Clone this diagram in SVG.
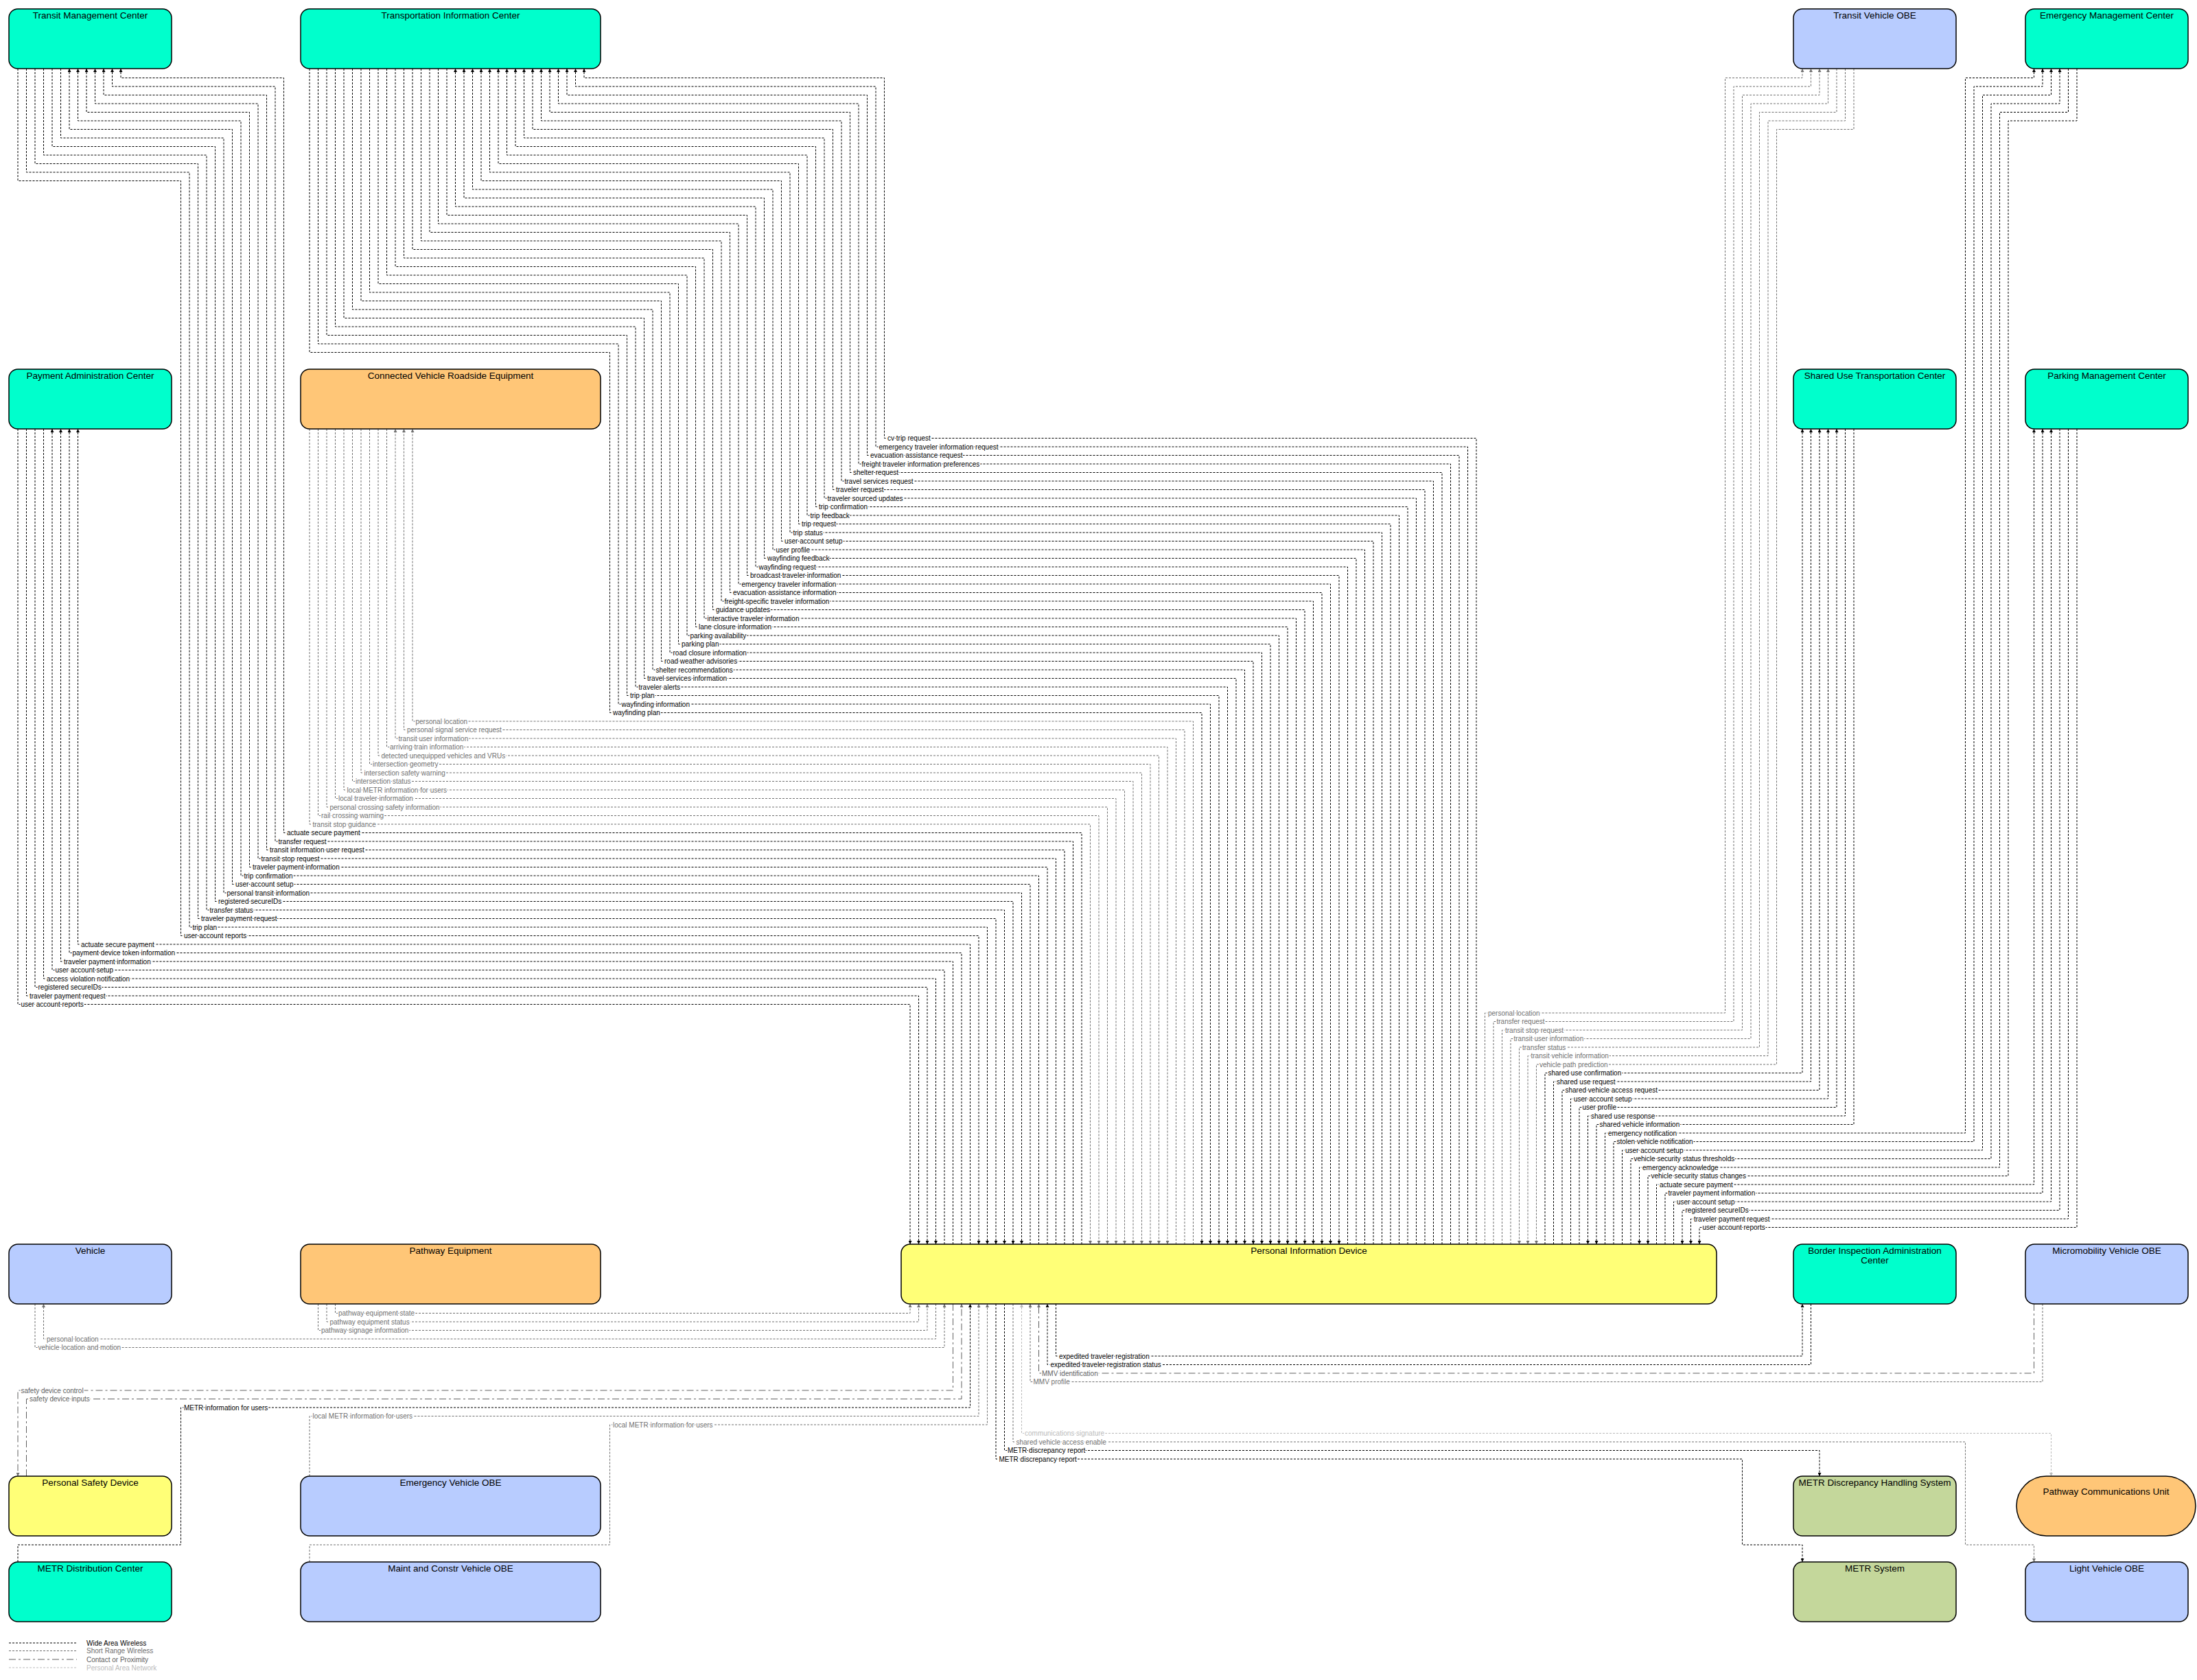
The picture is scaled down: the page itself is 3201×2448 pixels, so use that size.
<svg xmlns="http://www.w3.org/2000/svg" width="3201" height="2448" viewBox="0 0 3201 2448">
<defs>
<style>
.box{stroke:#000;stroke-width:1.5}
.g{fill:#00FFCC}.b{fill:#B8CCFF}.o{fill:#FFC677}.y{fill:#FFFF77}.m{fill:#C4D79B}
.ttl{font-family:"Liberation Sans",Arial,sans-serif;font-size:13.5px;fill:#000;text-anchor:middle}
path{fill:none;stroke-width:1}
.w{stroke:#000;stroke-dasharray:3 2;marker-end:url(#ab)}
.s{stroke:#707070;stroke-dasharray:3 2;marker-end:url(#ag)}
.c{stroke:#606060;stroke-dasharray:10 4 3 4;marker-end:url(#ag)}
.p{stroke:#BBBBBB;stroke-dasharray:3 2;marker-end:url(#ap)}
.ps{marker-start:url(#ap)}
.nm{marker-end:none}
text.l{font-family:"Liberation Sans",Arial,sans-serif;font-size:10px;paint-order:stroke;stroke:#fff;stroke-width:3px;stroke-linejoin:round}
.lw{fill:#000}.ls{fill:#707070}.lc{fill:#606060}.lp{fill:#BBBBBB}
</style>
<marker id="ab" viewBox="0 0 10 10" refX="10" refY="5" markerWidth="5" markerHeight="5" orient="auto" markerUnits="userSpaceOnUse"><path d="M0,0L10,5L0,10z" style="fill:#000;stroke:none"/></marker>
<marker id="ag" viewBox="0 0 10 10" refX="10" refY="5" markerWidth="5" markerHeight="5" orient="auto" markerUnits="userSpaceOnUse"><path d="M0,0L10,5L0,10z" style="fill:#707070;stroke:none"/></marker>
<marker id="ap" viewBox="0 0 10 10" refX="10" refY="5" markerWidth="5" markerHeight="5" orient="auto-start-reverse" markerUnits="userSpaceOnUse"><path d="M0,0L10,5L0,10z" style="fill:#BBBBBB;stroke:none"/></marker>
</defs>
<rect x="0" y="0" width="3201" height="2448" fill="#fff"/>

<g id="connectors">
<!-- Transportation Information Center -->
<path class="w" d="M451,100V513.5H888.5V1038.5H1751V1813"/>
<path class="w" d="M463.5,100V501H901V1026H1763.5V1813"/>
<path class="w" d="M476,100V488.5H913.5V1013.5H1776V1813"/>
<path class="w" d="M488.5,100V476H926V1001H1788.5V1813"/>
<path class="w" d="M501,100V463.5H938.5V988.5H1801V1813"/>
<path class="w" d="M513.5,100V451H951V976H1813.5V1813"/>
<path class="w" d="M526,100V438.5H963.5V963.5H1826V1813"/>
<path class="w" d="M538.5,100V426H976V951H1838.5V1813"/>
<path class="w" d="M551,100V413.5H988.5V938.5H1851V1813"/>
<path class="w" d="M563.5,100V401H1001V926H1863.5V1813"/>
<path class="w" d="M576,100V388.5H1013.5V913.5H1876V1813"/>
<path class="w" d="M588.5,100V376H1026V901H1888.5V1813"/>
<path class="w" d="M601,100V363.5H1038.5V888.5H1901V1813"/>
<path class="w" d="M613.5,100V351H1051V876H1913.5V1813"/>
<path class="w" d="M626,100V338.5H1063.5V863.5H1926V1813"/>
<path class="w" d="M638.5,100V326H1076V851H1938.5V1813"/>
<path class="w" d="M651,100V313.5H1088.5V838.5H1951V1813"/>
<path class="w" d="M1963.5,1813V826H1101V301H663.5V100"/>
<path class="w" d="M1976,1813V813.5H1113.5V288.5H676V100"/>
<path class="w" d="M1988.5,1813V801H1126V276H688.5V100"/>
<path class="w" d="M2001,1813V788.5H1138.5V263.5H701V100"/>
<path class="w" d="M2013.5,1813V776H1151V251H713.5V100"/>
<path class="w" d="M2026,1813V763.5H1163.5V238.5H726V100"/>
<path class="w" d="M2038.5,1813V751H1176V226H738.5V100"/>
<path class="w" d="M2051,1813V738.5H1188.5V213.5H751V100"/>
<path class="w" d="M2063.5,1813V726H1201V201H763.5V100"/>
<path class="w" d="M2076,1813V713.5H1213.5V188.5H776V100"/>
<path class="w" d="M2088.5,1813V701H1226V176H788.5V100"/>
<path class="w" d="M2101,1813V688.5H1238.5V163.5H801V100"/>
<path class="w" d="M2113.5,1813V676H1251V151H813.5V100"/>
<path class="w" d="M2126,1813V663.5H1263.5V138.5H826V100"/>
<path class="w" d="M2138.5,1813V651H1276V126H838.5V100"/>
<path class="w" d="M2151,1813V638.5H1288.5V113.5H851V100"/>
<!-- Connected Vehicle Roadside Equipment -->
<path class="s" d="M451,625V1201H1588.5V1813"/>
<path class="s" d="M463.5,625V1188.5H1601V1813"/>
<path class="s" d="M476,625V1176H1613.5V1813"/>
<path class="s" d="M488.5,625V1163.5H1626V1813"/>
<path class="s" d="M501,625V1151H1638.5V1813"/>
<path class="s" d="M513.5,625V1138.5H1651V1813"/>
<path class="s" d="M526,625V1126H1663.5V1813"/>
<path class="s" d="M538.5,625V1113.5H1676V1813"/>
<path class="s" d="M551,625V1101H1688.5V1813"/>
<path class="s" d="M563.5,625V1088.5H1701V1813"/>
<path class="s" d="M1713.5,1813V1076H576V625"/>
<path class="s" d="M1726,1813V1063.5H588.5V625"/>
<path class="s" d="M1738.5,1813V1051H601V625"/>
<!-- Transit Management Center -->
<path class="w" d="M26,100V263.5H263.5V1363.5H1426V1813"/>
<path class="w" d="M38.5,100V251H276V1351H1438.5V1813"/>
<path class="w" d="M51,100V238.5H288.5V1338.5H1451V1813"/>
<path class="w" d="M63.5,100V226H301V1326H1463.5V1813"/>
<path class="w" d="M76,100V213.5H313.5V1313.5H1476V1813"/>
<path class="w" d="M88.5,100V201H326V1301H1488.5V1813"/>
<path class="w" d="M1501,1813V1288.5H338.5V188.5H101V100"/>
<path class="w" d="M1513.5,1813V1276H351V176H113.5V100"/>
<path class="w" d="M1526,1813V1263.5H363.5V163.5H126V100"/>
<path class="w" d="M1538.5,1813V1251H376V151H138.5V100"/>
<path class="w" d="M1551,1813V1238.5H388.5V138.5H151V100"/>
<path class="w" d="M1563.5,1813V1226H401V126H163.5V100"/>
<path class="w" d="M1576,1813V1213.5H413.5V113.5H176V100"/>
<!-- Payment Administration Center -->
<path class="w" d="M26,625V1463.5H1326V1813"/>
<path class="w" d="M38.5,625V1451H1338.5V1813"/>
<path class="w" d="M51,625V1438.5H1351V1813"/>
<path class="w" d="M63.5,625V1426H1363.5V1813"/>
<path class="w" d="M1376,1813V1413.5H76V625"/>
<path class="w" d="M1388.5,1813V1401H88.5V625"/>
<path class="w" d="M1401,1813V1388.5H101V625"/>
<path class="w" d="M1413.5,1813V1376H113.5V625"/>
<!-- Transit Vehicle OBE -->
<path class="s" d="M2163.5,1813V1476H2513.5V113.5H2626V100"/>
<path class="s" d="M2176,1813V1488.5H2526V126H2638.5V100"/>
<path class="s" d="M2188.5,1813V1501H2538.5V138.5H2651V100"/>
<path class="s" d="M2201,1813V1513.5H2551V151H2663.5V100"/>
<path class="s" d="M2676,100V163.5H2563.5V1526H2213.5V1813"/>
<path class="s" d="M2688.5,100V176H2576V1538.5H2226V1813"/>
<path class="s" d="M2701,100V188.5H2588.5V1551H2238.5V1813"/>
<!-- Shared Use Transportation Center -->
<path class="w" d="M2251,1813V1563.5H2626V625"/>
<path class="w" d="M2263.5,1813V1576H2638.5V625"/>
<path class="w" d="M2276,1813V1588.5H2651V625"/>
<path class="w" d="M2288.5,1813V1601H2663.5V625"/>
<path class="w" d="M2301,1813V1613.5H2676V625"/>
<path class="w" d="M2688.5,625V1626H2313.5V1813"/>
<path class="w" d="M2701,625V1638.5H2326V1813"/>
<!-- Emergency Management Center -->
<path class="w" d="M2338.5,1813V1651H2863.5V113.5H2963.5V100"/>
<path class="w" d="M2351,1813V1663.5H2876V126H2976V100"/>
<path class="w" d="M2363.5,1813V1676H2888.5V138.5H2988.5V100"/>
<path class="w" d="M2376,1813V1688.5H2901V151H3001V100"/>
<path class="w" d="M3013.5,100V163.5H2913.5V1701H2388.5V1813"/>
<path class="w" d="M3026,100V176H2926V1713.5H2401V1813"/>
<!-- Parking Management Center -->
<path class="w" d="M2413.5,1813V1726H2963.5V625"/>
<path class="w" d="M2426,1813V1738.5H2976V625"/>
<path class="w" d="M2438.5,1813V1751H2988.5V625"/>
<path class="w" d="M3001,625V1763.5H2451V1813"/>
<path class="w" d="M3013.5,625V1776H2463.5V1813"/>
<path class="w" d="M3026,625V1788.5H2476V1813"/>
<!-- bottom flows -->
<path class="s" d="M488.5,1900V1913.5H1326V1900"/>
<path class="s" d="M476,1900V1926H1338.5V1900"/>
<path class="s" d="M463.5,1900V1938.5H1351V1900"/>
<path class="s" d="M1363.5,1900V1951H63.5V1900"/>
<path class="s" d="M51,1900V1963.5H1376V1900"/>
<path class="w" d="M1538.5,1900V1976H2626V1900"/>
<path class="w" d="M2638.5,1900V1988.5H1526V1900"/>
<path class="c" d="M2963.5,1900V2001H1513.5V1900"/>
<path class="s" d="M2976,1900V2013.5H1501V1900"/>
<path class="c" d="M1388.5,1900V2026H26V2151"/>
<path class="c" d="M38.5,2151V2038.5H1401V1900"/>
<path class="w" d="M26,2276V2251H263.5V2051H1413.5V1900"/>
<path class="s" d="M451,2151V2063.5H1426V1900"/>
<path class="s" d="M451,2276V2251H888.5V2076H1438.5V1900"/>
<path class="p ps" d="M1488.5,1900V2088.5H2988.5V2151"/>
<path class="s" d="M1476,1900V2101H2863.5V2251H2963.5V2276"/>
<path class="w" d="M1463.5,1900V2113.5H2651V2151"/>
<path class="w" d="M1451,1900V2126H2538.5V2251H2626V2276"/>

<!-- labels: TIC -->
<text class="l lw" x="893" y="1042">wayfinding plan</text>
<text class="l lw" x="905.5" y="1029.5">wayfinding information</text>
<text class="l lw" x="918" y="1017">trip plan</text>
<text class="l lw" x="930.5" y="1004.5">traveler alerts</text>
<text class="l lw" x="943" y="992">travel services information</text>
<text class="l lw" x="955.5" y="979.5">shelter recommendations</text>
<text class="l lw" x="968" y="967">road weather advisories</text>
<text class="l lw" x="980.5" y="954.5">road closure information</text>
<text class="l lw" x="993" y="942">parking plan</text>
<text class="l lw" x="1005.5" y="929.5">parking availability</text>
<text class="l lw" x="1018" y="917">lane closure information</text>
<text class="l lw" x="1030.5" y="904.5">interactive traveler information</text>
<text class="l lw" x="1043" y="892">guidance updates</text>
<text class="l lw" x="1055.5" y="879.5">freight-specific traveler information</text>
<text class="l lw" x="1068" y="867">evacuation assistance information</text>
<text class="l lw" x="1080.5" y="854.5">emergency traveler information</text>
<text class="l lw" x="1093" y="842">broadcast traveler information</text>
<text class="l lw" x="1105.5" y="829.5">wayfinding request</text>
<text class="l lw" x="1118" y="817">wayfinding feedback</text>
<text class="l lw" x="1130.5" y="804.5">user profile</text>
<text class="l lw" x="1143" y="792">user account setup</text>
<text class="l lw" x="1155.5" y="779.5">trip status</text>
<text class="l lw" x="1168" y="767">trip request</text>
<text class="l lw" x="1180.5" y="754.5">trip feedback</text>
<text class="l lw" x="1193" y="742">trip confirmation</text>
<text class="l lw" x="1205.5" y="729.5">traveler sourced updates</text>
<text class="l lw" x="1218" y="717">traveler request</text>
<text class="l lw" x="1230.5" y="704.5">travel services request</text>
<text class="l lw" x="1243" y="692">shelter request</text>
<text class="l lw" x="1255.5" y="679.5">freight traveler information preferences</text>
<text class="l lw" x="1268" y="667">evacuation assistance request</text>
<text class="l lw" x="1280.5" y="654.5">emergency traveler information request</text>
<text class="l lw" x="1293" y="642">cv trip request</text>
<!-- labels: CVRSE -->
<text class="l ls" x="455.5" y="1204.5">transit stop guidance</text>
<text class="l ls" x="468" y="1192">rail crossing warning</text>
<text class="l ls" x="480.5" y="1179.5">personal crossing safety information</text>
<text class="l ls" x="493" y="1167">local traveler information</text>
<text class="l ls" x="505.5" y="1154.5">local METR information for users</text>
<text class="l ls" x="518" y="1142">intersection status</text>
<text class="l ls" x="530.5" y="1129.5">intersection safety warning</text>
<text class="l ls" x="543" y="1117">intersection geometry</text>
<text class="l ls" x="555.5" y="1104.5">detected unequipped vehicles and VRUs</text>
<text class="l ls" x="568" y="1092">arriving train information</text>
<text class="l ls" x="580.5" y="1079.5">transit user information</text>
<text class="l ls" x="593" y="1067">personal signal service request</text>
<text class="l ls" x="605.5" y="1054.5">personal location</text>
<!-- labels: TMC -->
<text class="l lw" x="268" y="1367">user account reports</text>
<text class="l lw" x="280.5" y="1354.5">trip plan</text>
<text class="l lw" x="293" y="1342">traveler payment request</text>
<text class="l lw" x="305.5" y="1329.5">transfer status</text>
<text class="l lw" x="318" y="1317">registered secureIDs</text>
<text class="l lw" x="330.5" y="1304.5">personal transit information</text>
<text class="l lw" x="343" y="1292">user account setup</text>
<text class="l lw" x="355.5" y="1279.5">trip confirmation</text>
<text class="l lw" x="368" y="1267">traveler payment information</text>
<text class="l lw" x="380.5" y="1254.5">transit stop request</text>
<text class="l lw" x="393" y="1242">transit information user request</text>
<text class="l lw" x="405.5" y="1229.5">transfer request</text>
<text class="l lw" x="418" y="1217">actuate secure payment</text>
<!-- labels: PAC -->
<text class="l lw" x="30.5" y="1467">user account reports</text>
<text class="l lw" x="43" y="1454.5">traveler payment request</text>
<text class="l lw" x="55.5" y="1442">registered secureIDs</text>
<text class="l lw" x="68" y="1429.5">access violation notification</text>
<text class="l lw" x="80.5" y="1417">user account setup</text>
<text class="l lw" x="93" y="1404.5">traveler payment information</text>
<text class="l lw" x="105.5" y="1392">payment device token information</text>
<text class="l lw" x="118" y="1379.5">actuate secure payment</text>
<!-- labels: right side -->
<text class="l ls" x="2168" y="1479.5">personal location</text>
<text class="l ls" x="2180.5" y="1492">transfer request</text>
<text class="l ls" x="2193" y="1504.5">transit stop request</text>
<text class="l ls" x="2205.5" y="1517">transit user information</text>
<text class="l ls" x="2218" y="1529.5">transfer status</text>
<text class="l ls" x="2230.5" y="1542">transit vehicle information</text>
<text class="l ls" x="2243" y="1554.5">vehicle path prediction</text>
<text class="l lw" x="2255.5" y="1567">shared use confirmation</text>
<text class="l lw" x="2268" y="1579.5">shared use request</text>
<text class="l lw" x="2280.5" y="1592">shared vehicle access request</text>
<text class="l lw" x="2293" y="1604.5">user account setup</text>
<text class="l lw" x="2305.5" y="1617">user profile</text>
<text class="l lw" x="2318" y="1629.5">shared use response</text>
<text class="l lw" x="2330.5" y="1642">shared vehicle information</text>
<text class="l lw" x="2343" y="1654.5">emergency notification</text>
<text class="l lw" x="2355.5" y="1667">stolen vehicle notification</text>
<text class="l lw" x="2368" y="1679.5">user account setup</text>
<text class="l lw" x="2380.5" y="1692">vehicle security status thresholds</text>
<text class="l lw" x="2393" y="1704.5">emergency acknowledge</text>
<text class="l lw" x="2405.5" y="1717">vehicle security status changes</text>
<text class="l lw" x="2418" y="1729.5">actuate secure payment</text>
<text class="l lw" x="2430.5" y="1742">traveler payment information</text>
<text class="l lw" x="2443" y="1754.5">user account setup</text>
<text class="l lw" x="2455.5" y="1767">registered secureIDs</text>
<text class="l lw" x="2468" y="1779.5">traveler payment request</text>
<text class="l lw" x="2480.5" y="1792">user account reports</text>
<!-- labels: bottom -->
<text class="l ls" x="493" y="1917">pathway equipment state</text>
<text class="l ls" x="480.5" y="1929.5">pathway equipment status</text>
<text class="l ls" x="468" y="1942">pathway signage information</text>
<text class="l ls" x="68" y="1954.5">personal location</text>
<text class="l ls" x="55.5" y="1967">vehicle location and motion</text>
<text class="l lw" x="1543" y="1979.5">expedited traveler registration</text>
<text class="l lw" x="1530.5" y="1992">expedited traveler registration status</text>
<text class="l lc" x="1518" y="2004.5">MMV identification</text>
<text class="l ls" x="1505.5" y="2017">MMV profile</text>
<text class="l lc" x="30.5" y="2029.5">safety device control</text>
<text class="l lc" x="43" y="2042">safety device inputs</text>
<text class="l lw" x="268" y="2054.5">METR information for users</text>
<text class="l ls" x="455.5" y="2067">local METR information for users</text>
<text class="l ls" x="893" y="2079.5">local METR information for users</text>
<text class="l lp" x="1493" y="2092">communications signature</text>
<text class="l ls" x="1480.5" y="2104.5">shared vehicle access enable</text>
<text class="l lw" x="1468" y="2117">METR discrepancy report</text>
<text class="l lw" x="1455.5" y="2129.5">METR discrepancy report</text>
</g>

<g id="node-transit-management-center"><rect class="box g" x="13" y="13" width="237" height="87" rx="13"/><text class="ttl" x="131.5" y="26.5">Transit Management Center</text></g>
<g id="node-transportation-information-center"><rect class="box g" x="438" y="13" width="437" height="87" rx="13"/><text class="ttl" x="656.5" y="26.5">Transportation Information Center</text></g>
<g id="node-transit-vehicle-obe"><rect class="box b" x="2613" y="13" width="237" height="87" rx="13"/><text class="ttl" x="2731.5" y="26.5">Transit Vehicle OBE</text></g>
<g id="node-emergency-management-center"><rect class="box g" x="2951" y="13" width="237" height="87" rx="13"/><text class="ttl" x="3069.5" y="26.5">Emergency Management Center</text></g>

<g id="node-payment-administration-center"><rect class="box g" x="13" y="538" width="237" height="87" rx="13"/><text class="ttl" x="131.5" y="551.5">Payment Administration Center</text></g>
<g id="node-connected-vehicle-roadside-equipment"><rect class="box o" x="438" y="538" width="437" height="87" rx="13"/><text class="ttl" x="656.5" y="551.5">Connected Vehicle Roadside Equipment</text></g>
<g id="node-shared-use-transportation-center"><rect class="box g" x="2613" y="538" width="237" height="87" rx="13"/><text class="ttl" x="2731.5" y="551.5">Shared Use Transportation Center</text></g>
<g id="node-parking-management-center"><rect class="box g" x="2951" y="538" width="237" height="87" rx="13"/><text class="ttl" x="3069.5" y="551.5">Parking Management Center</text></g>

<g id="node-vehicle"><rect class="box b" x="13" y="1813" width="237" height="87" rx="13"/><text class="ttl" x="131.5" y="1826.5">Vehicle</text></g>
<g id="node-pathway-equipment"><rect class="box o" x="438" y="1813" width="437" height="87" rx="13"/><text class="ttl" x="656.5" y="1826.5">Pathway Equipment</text></g>
<g id="node-personal-information-device"><rect class="box y" x="1313" y="1813" width="1188" height="87" rx="13"/><text class="ttl" x="1907" y="1826.5">Personal Information Device</text></g>
<g id="node-border-inspection-administration-center"><rect class="box g" x="2613" y="1813" width="237" height="87" rx="13"/><text class="ttl" x="2731.5" y="1826.5">Border Inspection Administration</text><text class="ttl" x="2731.5" y="1840.5">Center</text></g>
<g id="node-micromobility-vehicle-obe"><rect class="box b" x="2951" y="1813" width="237" height="87" rx="13"/><text class="ttl" x="3069.5" y="1826.5">Micromobility Vehicle OBE</text></g>

<g id="node-personal-safety-device"><rect class="box y" x="13" y="2151" width="237" height="87" rx="13"/><text class="ttl" x="131.5" y="2164.5">Personal Safety Device</text></g>
<g id="node-emergency-vehicle-obe"><rect class="box b" x="438" y="2151" width="437" height="87" rx="13"/><text class="ttl" x="656.5" y="2164.5">Emergency Vehicle OBE</text></g>
<g id="node-metr-discrepancy-handling-system"><rect class="box m" x="2613" y="2151" width="237" height="87" rx="13"/><text class="ttl" x="2731.5" y="2164.5">METR Discrepancy Handling System</text></g>
<g id="node-pathway-communications-unit"><rect class="box o" x="2938" y="2151" width="261" height="87" rx="43.5"/><text class="ttl" x="3068.5" y="2178">Pathway Communications Unit</text></g>

<g id="node-metr-distribution-center"><rect class="box g" x="13" y="2276" width="237" height="87" rx="13"/><text class="ttl" x="131.5" y="2289.5">METR Distribution Center</text></g>
<g id="node-maint-and-constr-vehicle-obe"><rect class="box b" x="438" y="2276" width="437" height="87" rx="13"/><text class="ttl" x="656.5" y="2289.5">Maint and Constr Vehicle OBE</text></g>
<g id="node-metr-system"><rect class="box m" x="2613" y="2276" width="237" height="87" rx="13"/><text class="ttl" x="2731.5" y="2289.5">METR System</text></g>
<g id="node-light-vehicle-obe"><rect class="box b" x="2951" y="2276" width="237" height="87" rx="13"/><text class="ttl" x="3069.5" y="2289.5">Light Vehicle OBE</text></g>

<g id="legend">
<path class="w nm" d="M13,2394H112"/>
<path class="s nm" d="M13,2405.5H112"/>
<path class="c nm" d="M13,2418H112"/>
<path class="p nm" d="M13,2430H112"/>
<text class="l lw" x="126" y="2397.5">Wide Area Wireless</text>
<text class="l ls" x="126" y="2409">Short Range Wireless</text>
<text class="l lc" x="126" y="2421.5">Contact or Proximity</text>
<text class="l lp" x="126" y="2433.5">Personal Area Network</text>
</g>
</svg>
